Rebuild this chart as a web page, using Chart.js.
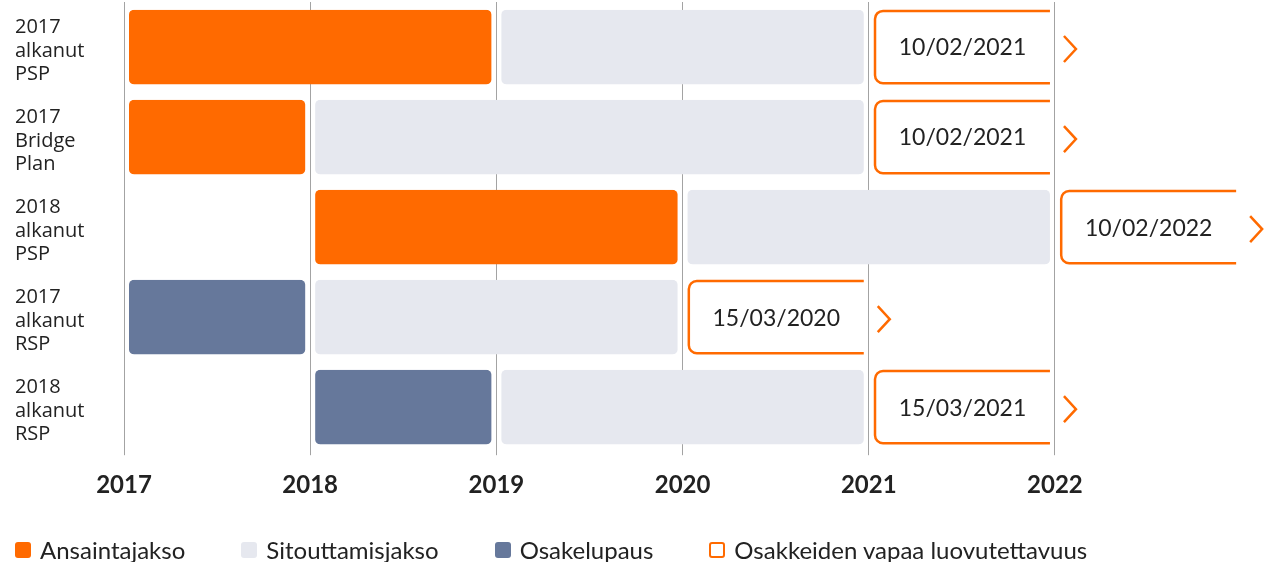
<!DOCTYPE html>
<html>
<head>
<meta charset="utf-8">
<script src="https://cdn.jsdelivr.net/npm/chart.js@4.4.0/dist/chart.umd.min.js"></script>
<style>
  html, body { margin: 0; padding: 0; background: #fff; }
  #wrap { position: relative; width: 1270px; height: 562px; }
  #legend { position: absolute; left: 15px; top: 536px; display: flex; font: 24px Lato, sans-serif; color: #222; line-height: 28px; }
  .item { display: flex; align-items: center; margin-right: 56px; }
  .box { width: 16px; height: 16px; border-radius: 3px; margin-right: 9px; box-sizing: border-box; }
</style>
</head>
<body>
<div id="wrap">
  <canvas id="gantt"></canvas>
  <div id="legend"></div>
</div>
<script>
const rowLabels = [
    ['2017', 'alkanut', 'PSP'],
    ['2017', 'Bridge', 'Plan'],
    ['2018', 'alkanut', 'PSP'],
    ['2017', 'alkanut', 'RSP'],
    ['2018', 'alkanut', 'RSP']
];
const years = [2017, 2018, 2019, 2020, 2021, 2022];

// [alku, loppu] per rivi
const ansaintajakso = [[2017, 2019], [2017, 2018], [2018, 2020], null, null];
const sitouttamisjakso = [[2019, 2021], [2018, 2021], [2020, 2022], [2018, 2020], [2019, 2021]];
const osakelupaus = [null, null, null, [2017, 2018], [2018, 2019]];
const vapaa = [[2021, 2022], [2021, 2022], [2022, 2023], [2020, 2021], [2021, 2022]];
const vapaaDates = ['10/02/2021', '10/02/2021', '10/02/2022', '15/03/2020', '15/03/2021'];

const orange = '#ff6a00';
const lightGray = '#e6e8ef';
const slate = '#66789b';
const textColor = '#222';

Chart.defaults.font.family = 'Lato';
Chart.defaults.color = textColor;

function barSet(label, data, color) {
    return {
        label: label,
        data: data,
        backgroundColor: color,
        borderColor: 'rgba(0,0,0,0)',
        borderWidth: {left: 5, right: 5, top: 0, bottom: 0},
        borderSkipped: false,
        borderRadius: 10,
        grouped: false,
        barPercentage: 0.83,
        categoryPercentage: 1
    };
}

const vapaaSet = barSet('Osakkeiden vapaa luovutettavuus', vapaa, '#ffffff');
vapaaSet.legendColor = orange;

// laatikon reunat, päivämäärä ja nuoli
const vapaaPlugin = {
    id: 'vapaa',
    afterDatasetsDraw(chart) {
        const meta = chart.getDatasetMeta(3);
        const ctx = chart.ctx;
        meta.data.forEach((bar, i) => {
            if (!vapaa[i]) return;
            const {x, y, base, height} = bar.getProps(['x', 'y', 'base', 'height'], true);
            const left = Math.min(x, base) + 6.25;
            const right = Math.max(x, base) - 5;
            const top = y - height / 2 + 1.25;
            const bottom = y + height / 2 - 1.25;
            ctx.save();
            ctx.strokeStyle = orange;
            ctx.lineWidth = 2.5;
            ctx.beginPath();
            ctx.moveTo(right, top);
            ctx.arcTo(left, top, left, bottom, 8);
            ctx.arcTo(left, bottom, right, bottom, 8);
            ctx.lineTo(right, bottom);
            ctx.stroke();

            ctx.beginPath();
            ctx.moveTo(right + 14, y - 11);
            ctx.lineTo(right + 26, y + 2);
            ctx.lineTo(right + 14, y + 15);
            ctx.stroke();

            ctx.fillStyle = textColor;
            ctx.font = '23px Lato';
            ctx.textAlign = 'center';
            ctx.textBaseline = 'middle';
            ctx.fillText(vapaaDates[i], (left + right) / 2, y + 1);
            ctx.restore();
        });
    }
};

const chart = new Chart(document.getElementById('gantt'), {
    type: 'bar',
    data: {
        labels: rowLabels,
        datasets: [
            barSet('Ansaintajakso', ansaintajakso, orange),
            barSet('Sitouttamisjakso', sitouttamisjakso, lightGray),
            barSet('Osakelupaus', osakelupaus, slate),
            vapaaSet
        ]
    },
    options: {
        indexAxis: 'y',
        responsive: true,
        maintainAspectRatio: false,
        animation: false,
        layout: {
            padding: {left: 15, top: 2, right: 0, bottom: 46}
        },
        plugins: {
            legend: {display: false},
            tooltip: {enabled: false}
        },
        scales: {
            x: {
                type: 'linear',
                min: 2017,
                max: 2023.155,
                afterBuildTicks: (scale) => {
                    scale.ticks = years.map(v => ({value: v}));
                },
                ticks: {
                    callback: (v) => String(v),
                    font: {size: 24, weight: 'bold'},
                    padding: 16,
                    maxRotation: 0
                },
                grid: {
                    color: '#a3a3a3',
                    lineWidth: 1,
                    tickLength: 3
                },
                border: {display: false}
            },
            y: {
                type: 'category',
                afterFit: (scale) => {
                    scale.width = 109;
                    scale.paddingTop = 0;
                    scale.paddingBottom = 0;
                },
                ticks: {
                    crossAlign: 'far',
                    font: {family: 'Open Sans', size: 20, lineHeight: 1.17},
                    labelOffset: 4
                },
                grid: {display: false},
                border: {display: false}
            }
        }
    },
    plugins: [vapaaPlugin]
});

// selite
const legendEl = document.getElementById('legend');
chart.data.datasets.forEach(ds => {
    const item = document.createElement('div');
    item.className = 'item';
    const box = document.createElement('span');
    box.className = 'box';
    if (ds.legendColor) {
        box.style.border = '2.5px solid ' + ds.legendColor;
        box.style.background = '#fff';
    } else {
        box.style.background = ds.backgroundColor;
    }
    const txt = document.createElement('span');
    txt.textContent = ds.label;
    item.appendChild(box);
    item.appendChild(txt);
    legendEl.appendChild(item);
});
</script>
</body>
</html>
